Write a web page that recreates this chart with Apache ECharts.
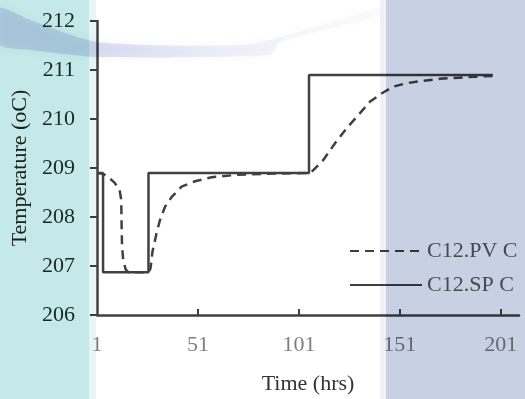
<!DOCTYPE html>
<html>
<head>
<meta charset="utf-8">
<script src="https://cdn.jsdelivr.net/npm/echarts@6/dist/echarts.min.js"></script>
<style>
html,body{margin:0;padding:0;background:#fff;}
#c{width:525px;height:399px;}
</style>
</head>
<body>
<div id="c"></div>
<script>
// ---- data ----
var seriesNames = ['C12.PV C', 'C12.SP C'];
var xTickLabels = [1, 51, 101, 151, 201];
var yTickLabels = [206, 207, 208, 209, 210, 211, 212];

var spTime  = [1, 4, 4, 26.5, 26.5, 106, 106, 197];
var spValue = [208.9, 208.9, 206.87, 206.87, 208.9, 208.9, 210.9, 210.9];

var pvTime  = [1, 4, 6.6, 9.9, 12.2, 13, 13.2, 13.4, 14, 15.2, 16.5, 26.5, 27.5, 28.5, 30.5, 32.2, 34.7, 38, 42.9, 49.5, 57.8, 70, 83, 106,
               107.3, 113, 118.8, 124.6, 130.4, 136.1, 141.9, 147.7, 154.3, 162.5, 170.8, 182.4, 197];
var pvValue = [208.9, 208.88, 208.82, 208.69, 208.55, 208.35, 207.8, 207.4, 207.12, 206.93, 206.87, 206.87, 206.95, 207.3, 207.67, 207.94, 208.21, 208.41, 208.62, 208.73, 208.81, 208.86, 208.88, 208.9,
               208.92, 209.16, 209.5, 209.81, 210.08, 210.35, 210.52, 210.66, 210.73, 210.78, 210.82, 210.85, 210.88];

function pairs(t, v){ var o=[]; for (var i=0;i<t.length;i++) o.push([t[i], v[i]]); return o; }

var font = 'Liberation Serif';
var lineColor = '#404040';
var fs = 22;

var chart = echarts.init(document.getElementById('c'), null, {renderer:'canvas'});
chart.setOption({
  animation: false,
  backgroundColor: '#ffffff',
  textStyle: {fontFamily: font},
  grid: {left: 97, right: 6, top: 21, bottom: 84, containLabel: false, outerBoundsMode: 'none'},
  legend: {
    orient: 'vertical',
    left: 344, top: 235,
    itemWidth: 72, itemHeight: 14, itemGap: 12,
    data: seriesNames,
    itemStyle: {opacity: 0, borderWidth: 0},
    textStyle: {fontFamily: font, fontSize: fs, color: '#595959'}
  },
  xAxis: {
    type: 'value', min: 1, max: 210, interval: 50,
    name: 'Time (hrs)', nameLocation: 'middle', nameGap: 58,
    nameTextStyle: {fontFamily: font, fontSize: fs, color: '#333333'},
    splitLine: {show: false},
    axisLine: {show: true, onZero: false, lineStyle: {color: lineColor, width: 2.5}},
    axisTick: {show: true, inside: true, length: 6, customValues: [51, 101, 151, 201], lineStyle: {color: lineColor, width: 2}},
    axisLabel: {customValues: xTickLabels, margin: 19, fontFamily: font, fontSize: fs, color: '#7f7f7f'}
  },
  yAxis: {
    type: 'value', min: 206, max: 212, interval: 1,
    name: 'Temperature (oC)', nameLocation: 'middle', nameGap: 63, nameRotate: 90,
    nameTextStyle: {fontFamily: font, fontSize: fs, color: '#222222'},
    splitLine: {show: false},
    axisLine: {show: true, lineStyle: {color: lineColor, width: 2.5}},
    axisTick: {show: true, inside: false, length: 7, lineStyle: {color: lineColor, width: 2}},
    axisLabel: {customValues: yTickLabels, margin: 22, fontFamily: font, fontSize: fs, color: '#1e2a2a'}
  },
  series: [
    {
      name: seriesNames[0], type: 'line', symbol: 'none', z: 3,
      data: pairs(pvTime, pvValue),
      lineStyle: {color: lineColor, width: 2.5, type: [9, 6]},
      itemStyle: {color: lineColor}
    },
    {
      name: seriesNames[1], type: 'line', symbol: 'none', z: 2,
      data: pairs(spTime, spValue),
      lineStyle: {color: lineColor, width: 2.5, type: 'solid'},
      itemStyle: {color: lineColor}
    }
  ],
  graphic: [
    {type: 'polygon', z: 100, silent: true,
     shape: {points: [[0,8],[30,20],[97,42],[250,44],[380,8],[380,15],[280,42],[270,55],[97,57],[30,50],[0,45]], smooth: 0.2},
     style: {fill: new echarts.graphic.LinearGradient(0,0,1,0,[{offset:0,color:'rgba(215,212,240,0.7)'},{offset:0.25,color:'rgba(205,210,236,0.65)'},{offset:0.6,color:'rgba(220,225,242,0.4)'},{offset:1,color:'rgba(238,240,250,0.2)'}]), blend: 'multiply', shadowBlur: 8, shadowColor: 'rgba(220,222,240,0.5)'}},
    {type: 'rect', z: 101, silent: true, shape: {x: 0, y: 0, width: 89, height: 399}, style: {fill: '#c5e9e8', blend: 'multiply'}},
    {type: 'rect', z: 101, silent: true, shape: {x: 89, y: 0, width: 7, height: 399}, style: {fill: '#e6f5f5', blend: 'multiply'}},
    {type: 'rect', z: 101, silent: true, shape: {x: 380, y: 0, width: 6, height: 399}, style: {fill: '#f0f1f7', blend: 'multiply'}},
    {type: 'rect', z: 101, silent: true, shape: {x: 386, y: 0, width: 139, height: 399}, style: {fill: '#c8d0e4', blend: 'multiply'}}
  ]
});
</script>
</body>
</html>
